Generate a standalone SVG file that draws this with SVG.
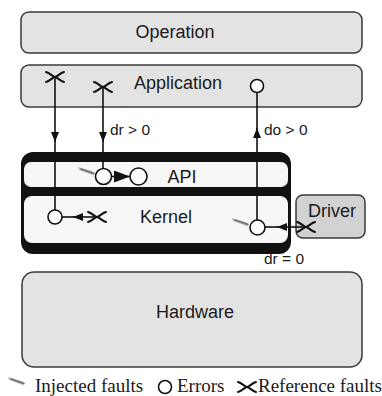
<svg xmlns="http://www.w3.org/2000/svg" width="382" height="396" viewBox="0 0 382 396">
<style>
.layer{fill:#e3e3e3;stroke:#3a3a3a;stroke-width:1.5}
.drv{fill:#d2d2d2;stroke:#3a3a3a;stroke-width:1.5}
.lbl{font-family:"Liberation Sans",Arial,sans-serif;font-size:18px;fill:#1a1a1a;text-anchor:middle}
.cond{font-family:"Liberation Sans",Arial,sans-serif;font-size:15.5px;fill:#1a1a1a}
.leg{font-family:"Liberation Serif","Times New Roman",serif;font-size:19px;fill:#1a1a1a}
.ln{stroke:#111;stroke-width:1.6;fill:none}
.err{fill:#fff;stroke:#111;stroke-width:1.6}
.xm{stroke:#111;stroke-width:2;fill:none;stroke-linecap:round}
</style>
<defs>
<marker id="arr" markerUnits="userSpaceOnUse" markerWidth="10" markerHeight="8" refX="10" refY="4" orient="auto">
<path d="M0,0 L10,4 L0,8 z" fill="#111"/>
</marker>
<marker id="arrBig" markerUnits="userSpaceOnUse" markerWidth="16" markerHeight="12" refX="16" refY="6" orient="auto">
<path d="M0,0 L16,6 L0,12 z" fill="#111"/>
</marker>
<g id="xmark">
<path class="xm" d="M-9,-5 C-5,-4 -2,0 0,0 C2,0 5,-4 9,-5"/>
<path class="xm" d="M-9,5 C-5,4 -2,0 0,0 C2,0 5,4 9,5"/>
</g>
<g id="inj">
<path d="M-18,-7 L-3,-2.5 L-2,1.5 L-17,-4 z" fill="#a5a5a5" opacity="0.75"/>
<path d="M-15,-5 L-2,-0.5" stroke="#707070" stroke-width="1.6" stroke-linecap="round"/>
</g>
</defs>

<g id="operation">
<rect class="layer" x="21" y="12" width="341" height="41" rx="8"/>
<text class="lbl" x="175" y="38">Operation</text>
</g>

<g id="application">
<rect class="layer" x="21" y="65" width="341" height="42" rx="8"/>
<text class="lbl" x="178" y="89">Application</text>
</g>

<g id="os">
<rect x="21" y="152" width="270" height="102" rx="12" fill="#111"/>
<rect x="24" y="162" width="264" height="25" rx="7" fill="#f7f7f7"/>
<rect x="24" y="196" width="264" height="47" rx="8" fill="#f7f7f7"/>
</g>
<g id="api">
<text class="lbl" x="182" y="183">API</text>
</g>
<g id="kernel">
<text class="lbl" x="166" y="223">Kernel</text>
</g>

<g id="driver">
<rect class="drv" x="296" y="195" width="69" height="43" rx="7"/>
<text class="lbl" x="332" y="217">Driver</text>
</g>

<g id="hardware">
<rect class="layer" x="22" y="272" width="340" height="95" rx="12"/>
<text class="lbl" x="195" y="318">Hardware</text>
</g>

<g id="connectors">
<path class="ln" d="M55,77 L55,142" marker-end="url(#arr)"/>
<path class="ln" d="M55,141 L55,210"/>
<path class="ln" d="M103,87 L103,142" marker-end="url(#arr)"/>
<path class="ln" d="M103,141 L103,168.5"/>
<path class="ln" d="M257,220 L257,128" marker-end="url(#arr)"/>
<path class="ln" d="M257,129 L257,92.5"/>
<path class="ln" d="M111.5,176.5 L130,176.5" marker-end="url(#arrBig)"/>
<path class="ln" d="M97,217 L73,217" marker-end="url(#arr)"/>
<path class="ln" d="M74,217 L62,217"/>
<path class="ln" d="M306,227 L277,227" marker-end="url(#arr)"/>
<path class="ln" d="M278,227 L265,227"/>
</g>

<g id="errors">
<circle class="err" cx="257" cy="86" r="6.5"/>
<circle class="err" cx="103.5" cy="176.5" r="8"/>
<circle class="err" cx="138.5" cy="176.5" r="8.5"/>
<circle class="err" cx="55" cy="217" r="7"/>
<circle class="err" cx="257.5" cy="227.5" r="7.5"/>
</g>

<g id="ref-faults">
<use href="#xmark" x="55" y="77"/>
<use href="#xmark" x="103" y="87"/>
<use href="#xmark" x="97" y="217"/>
<use href="#xmark" x="306" y="227"/>
</g>

<g id="injected-faults">
<use href="#inj" x="96" y="174"/>
<use href="#inj" x="250" y="225"/>
</g>

<g id="conditions">
<text class="cond" x="110" y="135">dr &gt; 0</text>
<text class="cond" x="264" y="135">do &gt; 0</text>
<text class="cond" x="264" y="264">dr = 0</text>
</g>

<g id="legend">
<use href="#inj" x="26" y="384"/>
<text class="leg" x="35" y="392">Injected faults</text>
<circle class="err" cx="165" cy="387" r="6.5"/>
<text class="leg" x="177" y="392">Errors</text>
<use href="#xmark" x="247" y="387"/>
<text class="leg" x="258" y="392">Reference faults</text>
</g>
</svg>
